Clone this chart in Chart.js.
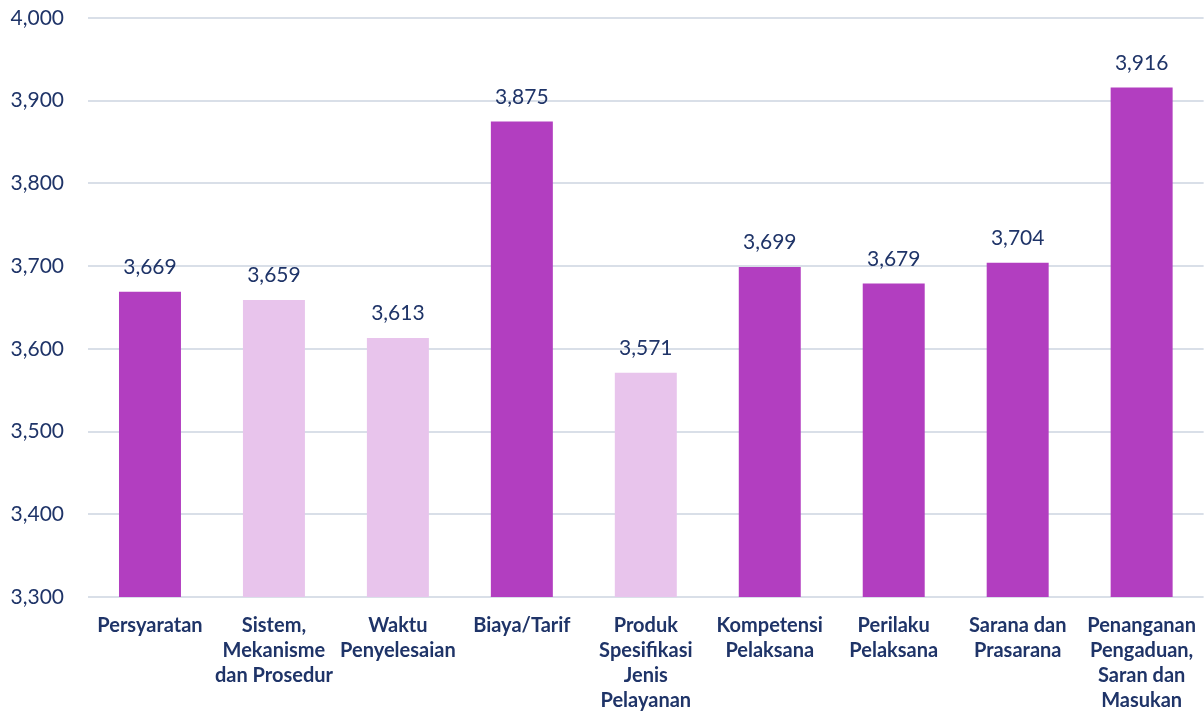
<!DOCTYPE html>
<html>
<head>
<meta charset="utf-8">
<script src="https://cdn.jsdelivr.net/npm/chart.js@4"></script>
<style>
  html, body { margin: 0; padding: 0; background: #fff; }
  #wrap { width: 1204px; height: 716px; }
</style>
</head>
<body>
<div id="wrap"><canvas id="chart"></canvas></div>
<script>
  // data
  var categories = [
    ['Persyaratan'],
    ['Sistem,', 'Mekanisme', 'dan Prosedur'],
    ['Waktu', 'Penyelesaian'],
    ['Biaya/Tarif'],
    ['Produk', 'Spesifikasi', 'Jenis', 'Pelayanan'],
    ['Kompetensi', 'Pelaksana'],
    ['Perilaku', 'Pelaksana'],
    ['Sarana dan', 'Prasarana'],
    ['Penanganan', 'Pengaduan,', 'Saran dan', 'Masukan']
  ];
  var values = [3.669, 3.659, 3.613, 3.875, 3.571, 3.699, 3.679, 3.704, 3.916];
  var lowlight = [false, true, true, false, true, false, false, false, false];
  var yMin = 3.3, yMax = 4.0, yStep = 0.1;

  var navy = '#1F3468';
  var dark = '#B23EC0';
  var light = '#E8C4EC';

  function fmt(v) {
    return v.toFixed(3).replace('.', ',');
  }

  // value above each bar
  var valueLabels = {
    id: 'valueLabels',
    afterDatasetsDraw: function (chart) {
      var ctx = chart.ctx;
      var meta = chart.getDatasetMeta(0);
      ctx.save();
      ctx.font = '21px Lato';
      ctx.fillStyle = navy;
      ctx.textAlign = 'center';
      ctx.textBaseline = 'bottom';
      meta.data.forEach(function (bar, i) {
        ctx.fillText(fmt(values[i]), bar.x, bar.y - 14);
      });
      ctx.restore();
    }
  };

  new Chart(document.getElementById('chart'), {
    type: 'bar',
    data: {
      labels: categories,
      datasets: [{
        data: values,
        backgroundColor: values.map(function (v, i) { return lowlight[i] ? light : dark; }),
        barPercentage: 0.5,
        categoryPercentage: 1.0
      }]
    },
    options: {
      responsive: true,
      maintainAspectRatio: false,
      animation: false,
      layout: { padding: { top: 18, right: 0, left: 0, bottom: 0 } },
      plugins: { legend: { display: false }, tooltip: { enabled: false } },
      scales: {
        x: {
          grid: { display: false },
          border: { display: false },
          ticks: {
            color: navy,
            font: { family: 'Lato', size: 20, weight: 'bold', lineHeight: 1.25 },
            maxRotation: 0,
            autoSkip: false,
            padding: 8
          },
          afterFit: function (s) { s.height = 119; s.paddingTop = 0; s.paddingBottom = 0; }
        },
        y: {
          min: yMin,
          max: yMax,
          grid: { color: '#D9DFE8', lineWidth: 2, drawTicks: false },
          border: { display: false },
          ticks: {
            stepSize: yStep,
            color: navy,
            padding: 24,
            font: { family: 'Lato', size: 21 },
            callback: function (v) { return fmt(v); }
          },
          afterFit: function (s) { s.width = 88; s.paddingTop = 0; s.paddingBottom = 0; }
        }
      }
    },
    plugins: [valueLabels]
  });
</script>
</body>
</html>
